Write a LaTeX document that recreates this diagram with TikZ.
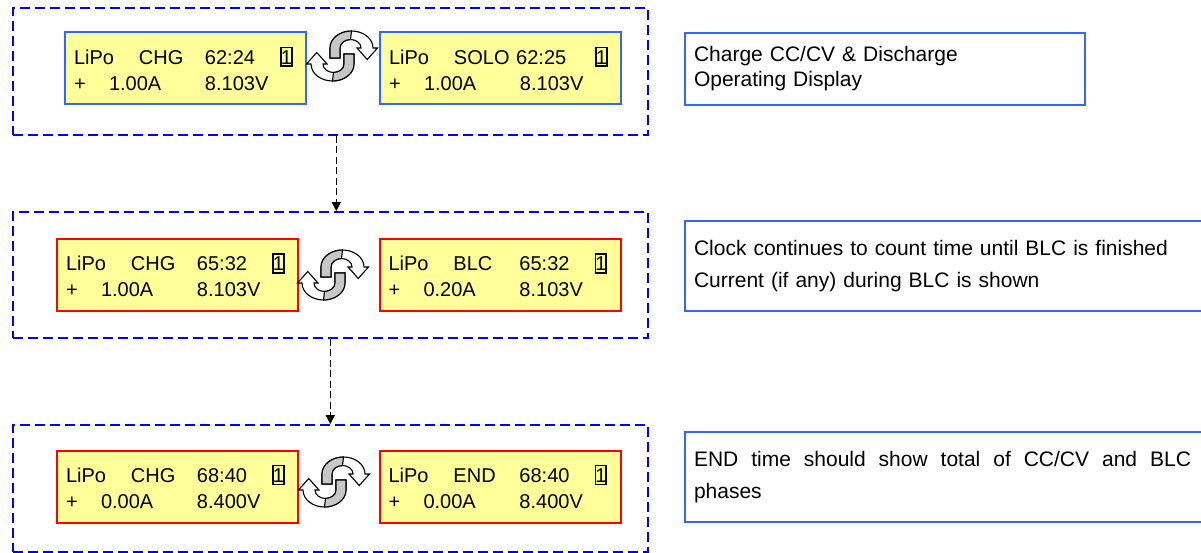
\documentclass[tikz,border=0pt]{standalone}
\usepackage{fontspec}
\setmainfont{Liberation Sans}
\usetikzlibrary{arrows.meta,positioning,calc}

\definecolor{lcdyellow}{RGB}{255,255,153}
\definecolor{lcdblue}{RGB}{51,102,255}
\definecolor{frameblue}{RGB}{0,0,255}

\newcommand{\chnum}{{\setlength{\fboxsep}{0.8pt}\setlength{\fboxrule}{1.8pt}%
  \fbox{\raisebox{0pt}[15pt][0.5pt]{\makebox[7.5pt]{1}}}}}
\newcommand{\lcdtext}[4]{%
  \makebox[65pt][l]{LiPo}\makebox[66pt][l]{#1}\makebox[75pt][l]{#2}\chnum\\
  \makebox[35pt][l]{+}\makebox[96pt][l]{#3}#4}

\tikzset{
  halfswap/.pic={
    \filldraw[fill=white,line width=1.1pt] (-12,2) -- (-12,-8)
      arc[start angle=180,end angle=360,x radius=21.5,y radius=17]
      -- (35.5,-8) -- (25.25,3.5) -- (15,-8) -- (19,-8)
      arc[start angle=360,end angle=180,x radius=10.5,y radius=8.5]
      -- (-2,2) -- cycle;
    \filldraw[fill=black!22,line width=1.1pt] (-12,2) -- (-12,-8)
      arc[start angle=180,end angle=270,x radius=21.5,y radius=17]
      -- (8.5,-16.5)
      arc[start angle=270,end angle=180,x radius=10.5,y radius=8.5]
      -- (-2,2) -- cycle;
  },
  swap/.pic={
    \pic {halfswap};
    \pic[rotate=180] {halfswap};
  }
}

\begin{document}
\begin{tikzpicture}[x=1pt,y=-1pt,
  frame/.style={draw=frameblue,dash pattern=on 10pt off 5pt,line width=1.8pt,
    minimum width=635pt,inner sep=0pt},
  lcd/.style={fill=lcdyellow,line width=2pt,minimum height=72pt,text width=223pt,
    inner xsep=9pt,inner ysep=0pt,align=left,font=\fontsize{20}{26}\selectfont},
  run/.style={lcd,draw=lcdblue},
  hold/.style={lcd,draw=red},
  note/.style={draw=lcdblue,line width=1.6pt,inner xsep=9pt,inner ysep=0pt,align=left},
  flow/.style={dash pattern=on 7pt off 3.5pt,line width=1.2pt,
    -{Triangle[width=9pt,length=9pt]}}]
\useasboundingbox (0,0) rectangle (1201,553);

% dashed groups
\node[frame,minimum height=127pt] (f1) at (330.3,71.5) {};
\node[frame,minimum height=126pt] (f2) at (330.3,275) {};
\node[frame,minimum height=127pt] (f3) at (330.3,488.5) {};

% displays
\node[run] (c1) at (185.5,68.5) {\lcdtext{CHG}{62:24}{1.00A}{8.103V}};
\node[run,right=72pt of c1] (c2) {\lcdtext{SOLO 62:25}{}{1.00A}{8.103V}};
\node[hold] (b1) at (177.5,275) {\lcdtext{CHG}{65:32}{1.00A}{8.103V}};
\node[hold,right=79.5pt of b1] (b2) {\lcdtext{BLC}{65:32}{0.20A}{8.103V}};
\node[hold] (e1) at (177.5,486.5) {\lcdtext{CHG}{68:40}{0.00A}{8.400V}};
\node[hold,right=79.5pt of e1] (e2) {\lcdtext{END}{68:40}{0.00A}{8.400V}};

% toggle symbols
\pic at (342,56) {swap};
\pic at (333,275) {swap};
\pic at (334,482) {swap};

% notes
\node[note,text width=382pt,minimum height=72pt,
  font=\fontsize{21}{25}\selectfont] (n1) at (885,69)
  {Charge CC/CV \& Discharge\\Operating Display};
\node[note,text width=510pt,minimum height=90pt,
  font=\fontsize{21}{32}\selectfont] (n2) at (949,266)
  {Clock continues to count time until BLC is finished\\Current (if any) during BLC is shown};
\node[note,align=justify,text width=510pt,minimum height=90pt,
  font=\fontsize{21}{32}\selectfont] (n3) at (949,477)
  {\parbox{497pt}{END time should show total of CC/CV and BLC\linebreak phases}};

% sequence
\draw[flow] ([xshift=6pt]f1.south) -- ([xshift=6pt]f2.north);
\draw[flow] (f2.south) -- (f3.north);
\end{tikzpicture}
\end{document}
